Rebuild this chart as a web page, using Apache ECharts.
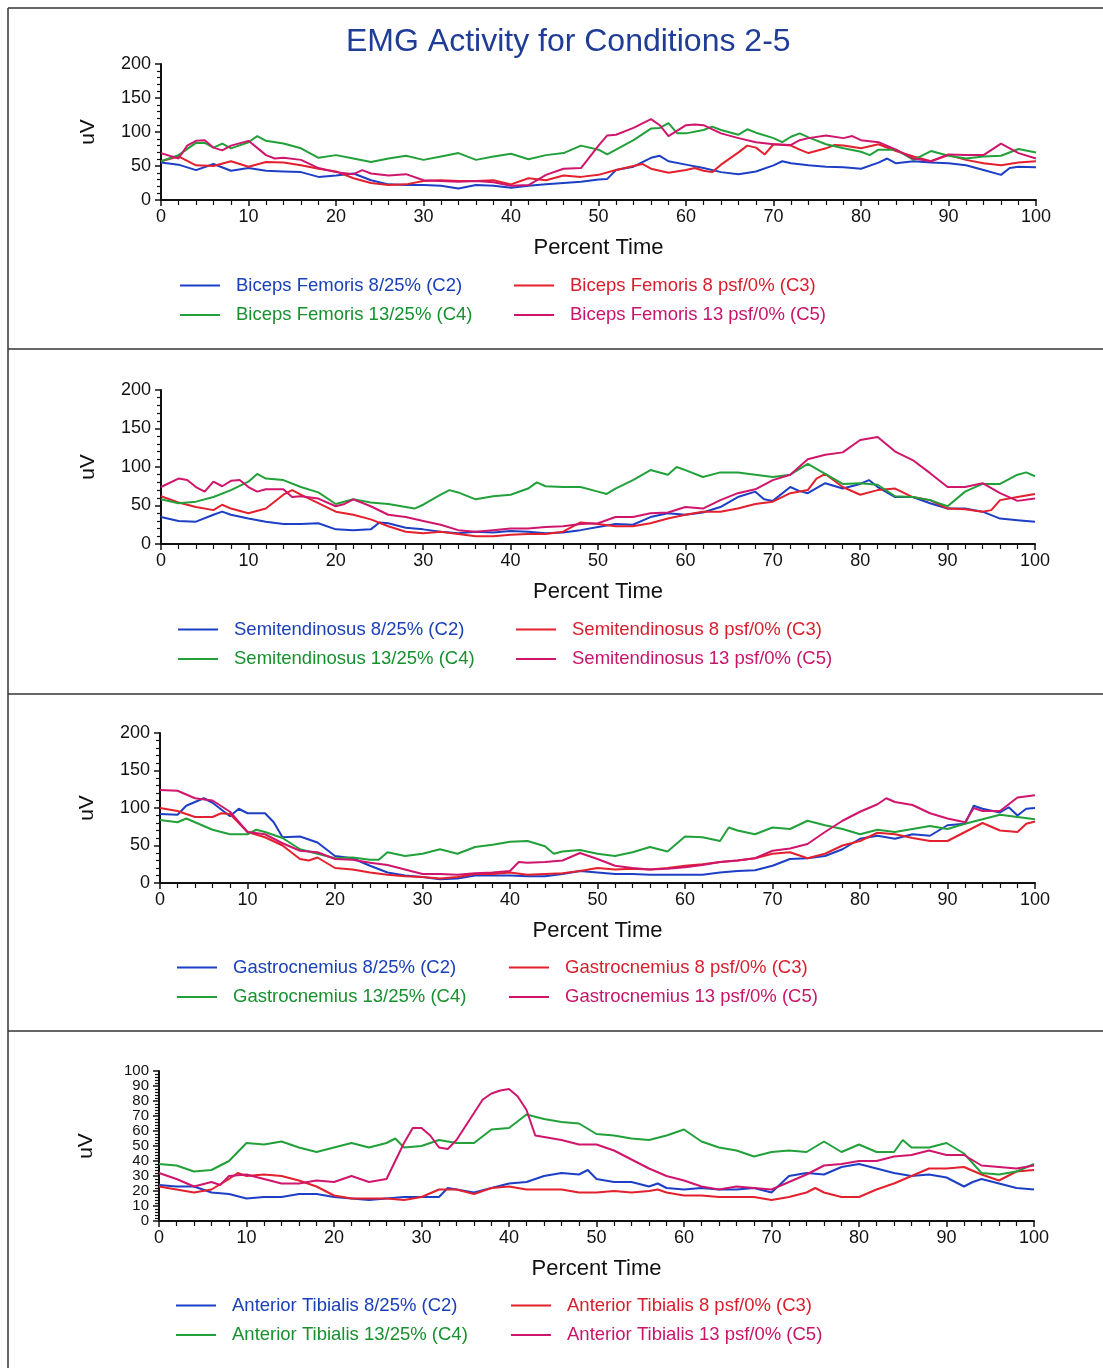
<!DOCTYPE html>
<html><head><meta charset="utf-8">
<script src="https://cdn.jsdelivr.net/npm/echarts@6/dist/echarts.min.js"></script>
<style>html,body{margin:0;padding:0;background:#fff}#c{width:1103px;height:1368px}</style>
</head><body><div id="c"></div>
<script>
// ---------- data ----------
const titleText = 'EMG Activity for Conditions 2-5';
const muscles = ['Biceps Femoris', 'Semitendinosus', 'Gastrocnemius', 'Anterior Tibialis'];
const conditions = ['8/25% (C2)', '8 psf/0% (C3)', '13/25% (C4)', '13 psf/0% (C5)'];
const xTickValues = [0,10,20,30,40,50,60,70,80,90,100];
const yMaxes = [200, 200, 200, 100];
const yIntervals = [50, 50, 50, 10];

// Biceps Femoris
const bf_c2 = [[0,55],[2,52],[4,44],[6,53],[8,43],[10,47],[12,43],[14,42],[16,41],[18,34],[20,36],[22,39],[24,29],[26,23],[28,22],[30,22],[32,21],[34,17],[36,22],[38,21],[40,18],[42,21],[44,23],[46,25],[48,27],[50,30],[51,31],[52,44],[54,49],[56,62],[57,65],[58,57],[60,52],[62,47],[64,41],[66,38],[68,42],[70,51],[71,57],[72,54],[74,51],[76,49],[78,48],[80,46],[82,55],[83,61],[84,54],[86,57],[88,55],[90,54],[92,51],[94,44],[96,37],[97,47],[98,49],[100,48]];
const bf_c3 = [[0,57],[2,64],[4,51],[6,50],[8,57],[10,49],[12,56],[14,55],[16,51],[18,46],[20,42],[22,32],[24,25],[26,22],[28,23],[30,28],[32,29],[34,28],[36,28],[38,29],[40,23],[42,32],[44,29],[46,36],[48,34],[50,37],[52,44],[54,50],[55,53],[56,46],[58,40],[60,44],[61,47],[62,43],[63,41],[64,52],[66,70],[67,80],[68,77],[69,67],[70,82],[72,80],[73,74],[74,69],[76,76],[77,81],[78,80],[80,76],[82,82],[84,72],[86,64],[88,57],[90,66],[92,59],[94,54],[96,51],[98,55],[100,57]];
const bf_c4 = [[0,57],[2,66],[4,84],[5,84],[6,77],[7,83],[8,76],[10,85],[11,94],[12,87],[14,83],[16,76],[18,62],[20,66],[22,61],[24,56],[26,61],[28,65],[30,59],[32,64],[34,69],[36,59],[38,64],[40,68],[42,60],[44,66],[46,69],[48,80],[50,74],[51,67],[52,74],[54,88],[56,105],[57,106],[58,113],[59,98],[60,98],[62,103],[63,108],[64,103],[66,96],[67,104],[68,99],[70,91],[71,85],[72,93],[73,98],[74,92],[76,82],[78,76],[80,71],[81,66],[82,74],[84,74],[86,59],[88,72],[90,65],[92,61],[94,64],[96,65],[98,75],[100,70]];
const bf_c5 = [[0,69],[2,61],[3,80],[4,87],[5,88],[6,77],[7,73],[8,80],[10,87],[12,66],[13,61],[14,62],[16,59],[18,47],[20,41],[22,38],[23,44],[24,39],[26,36],[28,38],[30,29],[32,28],[34,27],[36,28],[38,26],[40,21],[42,22],[44,37],[46,46],[48,47],[50,80],[51,95],[52,96],[54,106],[56,119],[57,110],[58,94],[60,110],[61,111],[62,110],[64,98],[66,91],[68,85],[70,82],[72,81],[73,88],[74,91],[76,95],[78,91],[79,94],[80,88],[82,85],[84,74],[86,61],[88,57],[90,67],[92,66],[94,66],[96,83],[98,69],[100,61]];

// Semitendinosus
const st_c2 = [[0,35],[2,30],[4,29],[6,38],[7,42],[8,38],[10,33],[12,29],[14,26],[16,26],[18,27],[20,19],[22,18],[24,19],[25,28],[26,27],[28,21],[30,19],[32,16],[34,14],[36,16],[38,15],[40,17],[42,16],[44,14],[46,15],[48,18],[50,22],[52,26],[54,25],[56,35],[58,40],[60,38],[62,41],[64,48],[66,61],[68,68],[69,58],[70,56],[72,74],[73,69],[74,66],[76,79],[78,72],[80,78],[81,83],[82,74],[84,61],[86,61],[88,53],[90,46],[92,46],[94,42],[96,33],[98,31],[100,29]];
const st_c3 = [[0,62],[2,54],[4,48],[6,44],[7,51],[8,46],[10,40],[12,46],[14,64],[15,70],[16,64],[18,53],[20,42],[22,38],[24,32],[26,23],[28,16],[30,14],[32,16],[34,13],[36,10],[38,10],[40,12],[42,13],[44,13],[46,16],[48,28],[50,26],[52,23],[54,23],[56,27],[58,33],[60,38],[62,42],[64,42],[66,46],[68,52],[70,55],[72,66],[74,70],[75,85],[76,91],[78,74],[80,64],[82,70],[84,72],[86,61],[88,57],[90,46],[92,45],[94,42],[95,44],[96,57],[98,61],[100,65]];
const st_c4 = [[0,58],[2,53],[4,55],[6,61],[8,70],[10,81],[11,91],[12,85],[14,83],[16,74],[18,67],[20,52],[22,58],[24,54],[26,52],[28,48],[29,46],[30,51],[32,64],[33,70],[34,67],[36,58],[38,62],[40,64],[42,72],[43,80],[44,75],[46,74],[48,74],[50,68],[51,65],[52,72],[54,83],[56,96],[58,90],[59,100],[60,96],[62,87],[64,93],[66,93],[68,90],[70,87],[72,90],[74,104],[76,91],[78,78],[80,79],[82,77],[84,62],[86,61],[88,57],[90,49],[92,68],[94,78],[96,78],[98,90],[99,93],[100,88]];
const st_c5 = [[0,74],[2,85],[3,83],[4,74],[5,68],[6,81],[7,75],[8,82],[9,83],[10,74],[11,68],[12,71],[14,71],[15,61],[16,62],[18,59],[20,49],[21,52],[22,58],[24,49],[26,38],[28,35],[30,30],[32,25],[34,18],[36,16],[38,18],[40,20],[42,20],[44,22],[46,23],[48,26],[50,27],[52,35],[54,35],[56,40],[58,41],[60,48],[62,46],[64,57],[66,66],[68,71],[70,83],[72,90],[74,110],[76,116],[78,119],[80,135],[82,139],[84,120],[86,109],[88,92],[90,74],[92,74],[94,79],[96,66],[98,56],[100,59]];

// Gastrocnemius
const ga_c2 = [[0,92],[2,91],[3,103],[4,108],[5,113],[6,107],[8,89],[9,99],[10,93],[12,93],[13,81],[14,61],[16,62],[18,54],[20,36],[22,33],[24,23],[26,14],[28,10],[30,8],[32,5],[34,6],[36,10],[38,10],[40,10],[42,9],[44,9],[46,12],[48,16],[50,14],[52,12],[54,12],[56,11],[58,11],[60,11],[62,11],[64,14],[66,16],[68,17],[70,23],[72,32],[74,33],[76,36],[78,45],[80,59],[82,63],[84,59],[86,65],[88,63],[90,77],[92,79],[93,103],[94,99],[96,94],[97,101],[98,90],[99,99],[100,100]];
const ga_c3 = [[0,100],[2,96],[4,88],[6,88],[7,93],[8,92],[10,68],[12,61],[14,50],[16,32],[17,30],[18,34],[20,20],[22,18],[24,14],[26,11],[28,9],[30,8],[32,6],[34,8],[36,12],[38,12],[40,14],[42,11],[44,12],[46,13],[48,16],[50,20],[52,18],[54,19],[56,18],[58,20],[60,23],[62,25],[64,28],[66,30],[68,33],[70,39],[72,41],[74,33],[76,39],[78,50],[80,56],[82,67],[84,65],[86,60],[88,56],[90,56],[92,68],[94,80],[96,70],[98,68],[99,79],[100,82]];
const ga_c4 = [[0,84],[2,81],[3,86],[4,81],[6,71],[8,65],[10,65],[11,71],[12,68],[14,60],[16,45],[18,39],[20,33],[22,34],[24,31],[25,31],[26,41],[28,36],[30,39],[32,45],[34,39],[36,48],[38,51],[40,55],[42,56],[44,49],[45,39],[46,42],[48,44],[50,39],[52,36],[54,41],[56,48],[58,42],[60,62],[62,61],[64,56],[65,74],[66,70],[68,65],[70,74],[72,72],[74,83],[76,77],[78,72],[80,65],[82,71],[84,68],[86,72],[88,76],[90,72],[92,79],[94,85],[96,91],[98,88],[100,85]];
const ga_c5 = [[0,124],[2,123],[4,113],[6,110],[8,95],[10,68],[12,65],[14,53],[16,43],[18,41],[20,32],[22,31],[24,27],[26,24],[28,18],[30,12],[32,12],[34,11],[36,13],[38,14],[40,16],[41,28],[42,27],[44,28],[46,30],[48,40],[50,32],[52,23],[54,20],[56,18],[58,19],[60,21],[62,24],[64,28],[66,30],[68,33],[70,43],[72,46],[74,52],[76,68],[78,83],[80,95],[82,105],[83,113],[84,108],[86,104],[88,93],[90,86],[92,81],[93,100],[94,96],[96,96],[97,105],[98,114],[100,117]];

// Anterior Tibialis
const at_c2 = [[0,24],[2,23],[4,23],[6,19],[8,18],[10,15],[12,16],[14,16],[16,18],[18,18],[20,16],[22,15],[24,14],[26,15],[28,16],[30,16],[32,16],[33,22],[34,21],[36,19],[38,22],[40,25],[42,26],[44,30],[46,32],[48,31],[49,34],[50,28],[52,26],[54,26],[56,23],[57,25],[58,22],[60,21],[62,22],[64,21],[66,21],[68,22],[70,19],[72,30],[74,32],[76,31],[78,36],[80,38],[82,35],[84,32],[86,30],[88,31],[90,29],[92,23],[93,26],[94,28],[96,25],[98,22],[100,21]];
const at_c3 = [[0,23],[2,21],[4,19],[6,21],[8,28],[9,32],[10,30],[12,31],[14,30],[16,27],[18,23],[20,17],[22,15],[24,15],[26,15],[28,14],[30,16],[32,21],[34,21],[36,18],[38,22],[40,23],[42,21],[44,21],[46,21],[48,19],[50,19],[52,20],[54,19],[56,20],[57,21],[58,19],[60,17],[62,17],[64,16],[66,16],[68,16],[70,14],[72,16],[74,19],[75,22],[76,19],[78,16],[80,16],[82,21],[84,25],[86,30],[88,35],[90,35],[92,36],[94,31],[96,27],[98,33],[100,34]];
const at_c4 = [[0,38],[2,37],[4,33],[6,34],[8,40],[10,52],[12,51],[14,53],[16,49],[18,46],[20,49],[22,52],[24,49],[26,52],[27,55],[28,49],[30,50],[32,54],[34,52],[36,52],[38,61],[40,62],[42,71],[44,68],[46,66],[48,65],[50,58],[52,57],[54,55],[56,54],[58,57],[60,61],[62,53],[64,49],[66,47],[68,43],[70,46],[72,47],[74,46],[76,53],[78,46],[80,51],[82,46],[84,46],[85,54],[86,49],[88,49],[90,52],[92,45],[94,32],[96,31],[98,33],[100,38]];
const at_c5 = [[0,32],[2,28],[4,23],[6,26],[7,24],[8,30],[10,31],[12,28],[14,25],[16,25],[18,27],[20,26],[22,30],[24,26],[26,28],[27,40],[28,52],[29,62],[30,62],[31,57],[32,49],[33,48],[34,54],[35,63],[36,72],[37,81],[38,85],[39,87],[40,88],[41,83],[42,74],[43,57],[44,56],[46,54],[48,51],[50,51],[52,47],[54,41],[56,35],[58,30],[60,27],[62,23],[64,21],[66,23],[68,22],[70,21],[72,26],[74,31],[76,37],[78,38],[80,40],[82,40],[84,43],[86,44],[88,47],[90,44],[92,44],[94,37],[96,36],[98,35],[100,37]];

const panelData = [
  [bf_c2, bf_c3, bf_c4, bf_c5],
  [st_c2, st_c3, st_c4, st_c5],
  [ga_c2, ga_c3, ga_c4, ga_c5],
  [at_c2, at_c3, at_c4, at_c5]
];

// ---------- layout / style ----------
const FONT = '"Liberation Sans", Arial, sans-serif';
const lineColors = ['#1d3fc6', '#e3202d', '#22a03a', '#d0156c'];
const textColors = ['#1a40b8', '#d81e2c', '#17902f', '#c8156a'];
const grids = [
  {left: 161, top: 64, width: 875, height: 136},
  {left: 161, top: 390, width: 874, height: 154},
  {left: 160, top: 733, width: 875, height: 150},
  {left: 159, top: 1071, width: 875, height: 150}
];
const legendPos = [
  {top: 276, c1: 180, c2: 514},
  {top: 620, c1: 178, c2: 516},
  {top: 958, c1: 177, c2: 509},
  {top: 1296, c1: 176, c2: 511}
];

const option = {
  animation: false,
  backgroundColor: '#fff',
  title: {
    text: titleText, left: 341, top: 21,
    textStyle: {fontFamily: FONT, fontSize: 32, fontWeight: 'normal', color: '#1f3c96'}
  },
  grid: grids.map(g => Object.assign({containLabel: false}, g)),
  xAxis: [], yAxis: [], series: [], legend: [],
  graphic: [
    {type: 'line', shape: {x1: 8, y1: 8, x2: 1103, y2: 8}, style: {stroke: '#333', lineWidth: 1.5}},
    {type: 'line', shape: {x1: 8, y1: 8, x2: 8, y2: 1368}, style: {stroke: '#333', lineWidth: 1.5}},
    {type: 'line', shape: {x1: 8, y1: 349, x2: 1103, y2: 349}, style: {stroke: '#333', lineWidth: 1.5}},
    {type: 'line', shape: {x1: 8, y1: 694, x2: 1103, y2: 694}, style: {stroke: '#333', lineWidth: 1.5}},
    {type: 'line', shape: {x1: 8, y1: 1031, x2: 1103, y2: 1031}, style: {stroke: '#333', lineWidth: 1.5}}
  ]
};

for (let p = 0; p < 4; p++) {
  const dense = p === 3;
  option.xAxis.push({
    type: 'value', gridIndex: p, min: xTickValues[0], max: xTickValues[xTickValues.length - 1], interval: 10,
    name: 'Percent Time', nameLocation: 'middle', nameGap: 37,
    nameTextStyle: {fontFamily: FONT, fontSize: 22, color: '#111'},
    axisLine: {show: true, onZero: false, lineStyle: {color: '#111', width: 2}},
    axisTick: {show: true, length: 6, lineStyle: {color: '#111', width: 1.5}},
    minorTick: {show: true, splitNumber: 5, length: 5, lineStyle: {color: '#111', width: 1.2}},
    splitLine: {show: false},
    axisLabel: {fontFamily: FONT, fontSize: 18, color: '#111', margin: 8, showMinLabel: true, showMaxLabel: true}
  });
  option.yAxis.push({
    type: 'value', gridIndex: p, min: 0, max: yMaxes[p], interval: yIntervals[p],
    name: 'uV', nameLocation: 'middle', nameGap: 62, nameRotate: 90,
    nameTextStyle: {fontFamily: FONT, fontSize: 21, color: '#111'},
    axisLine: {show: true, lineStyle: {color: '#111', width: 2}},
    axisTick: {show: true, length: 6, lineStyle: {color: '#111', width: 1.5}},
    minorTick: {show: true, splitNumber: 5, length: 4, lineStyle: {color: '#111', width: 1.2}},
    splitLine: {show: false},
    axisLabel: {fontFamily: FONT, fontSize: dense ? 15 : 18, lineHeight: dense ? 12 : 18, color: '#111', margin: 10,
      showMinLabel: true, showMaxLabel: true, hideOverlap: false}
  });
  const names = conditions.map(c => muscles[p] + ' ' + c);
  for (let s = 0; s < 4; s++) {
    option.series.push({
      type: 'line', name: names[s], xAxisIndex: p, yAxisIndex: p,
      data: panelData[p][s], showSymbol: false, symbol: 'none',
      lineStyle: {color: lineColors[s], width: 2}, itemStyle: {color: lineColors[s]}
    });
  }
  const lp = legendPos[p];
  [[0, 2, lp.c1], [1, 3, lp.c2]].forEach(([a, b, left]) => {
    option.legend.push({
      orient: 'vertical', left: left, top: lp.top, itemGap: 10.5, padding: 0,
      itemWidth: 40, itemHeight: 2, icon: 'rect', selectedMode: false,
      data: [
        {name: names[a], textStyle: {color: textColors[a]}},
        {name: names[b], textStyle: {color: textColors[b]}}
      ],
      textStyle: {fontFamily: FONT, fontSize: 18.5, lineHeight: 18, padding: [0, 0, 0, 11]}
    });
  });
}

const chart = echarts.init(document.getElementById('c'), null, {renderer: 'canvas'});
chart.setOption(option);
</script></body></html>
